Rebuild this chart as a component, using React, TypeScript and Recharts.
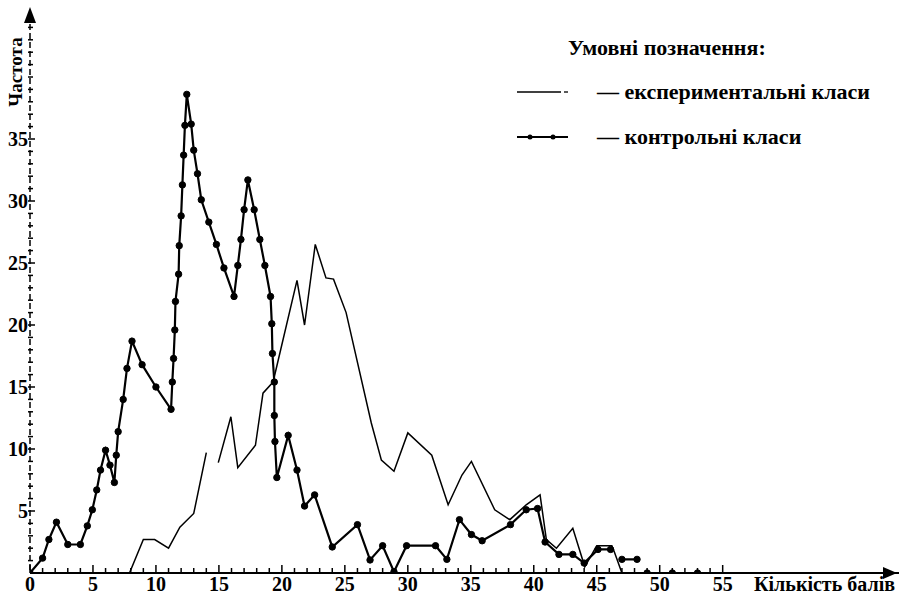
import React from "react";
import { LineChart, Line, XAxis, YAxis, Legend } from "recharts";

const W = 908;
const H = 599;
const LEFT = 30;
const TOP = 15;
const RIGHT = 9;
const XAXIS_H = 26;
const FONT = "'Liberation Serif', 'Times New Roman', serif";

// контрольні класи (points with dots); null = break in the line
const controlScore = [
  0, 1, 1.5, 2.1, 3, 4, 4.55, 4.95, 5.3, 5.6, 6, 6.35, 6.7, 6.85, 7, 7.4, 7.7,
  8.1, 8.9, 10, 11.2, 11.3, 11.4, 11.5, 11.55, 11.8, 11.85, 12, 12.1, 12.2,
  12.3, 12.45, 12.8, 13, 13.3, 13.6, 14.2, 14.8, 15.4, 16.2, 16.5, 16.75, 17,
  17.3, 17.8, 18.25, 18.65, 19.1, 19.2, 19.25, 19.4, 19.4, 19.45, 19.6, 20.5,
  21.2, 21.8, 22.6, 24, 26, 27, 28, 28.9, 29.9, 32.2, 33.1, 34.1, 35.05, 35.9,
  38.15, 39.4, 40.3, 40.9, 42, 43.1, 44, 45.1, 46.1, 46.5, 47, 48.2, 48.6, 49,
  51, 53,
];
const controlFreq = [
  0, 1.2, 2.7, 4.1, 2.3, 2.3, 3.8, 5.1, 6.7, 8.3, 9.9, 8.7, 7.3, 9.5, 11.4, 14,
  16.5, 18.7, 16.8, 15, 13.2, 15.4, 17.3, 19.6, 21.9, 24.1, 26.4, 28.8, 31.3,
  33.7, 36.1, 38.6, 36.2, 34.1, 32.2, 30.1, 28.3, 26.5, 24.6, 22.3, 24.8, 26.9,
  29.3, 31.7, 29.3, 26.9, 24.8, 22.3, 20.1, 17.7, 15.4, 12.7, 10.6, 7.7, 11.1,
  8.3, 5.4, 6.3, 2.1, 3.9, 1.05, 2.2, 0.1, 2.2, 2.2, 1.1, 4.3, 3.1, 2.6, 3.9,
  5.1, 5.2, 2.5, 1.5, 1.5, 0.8, 1.9, 1.9, null, 1.1, 1.1, null, 0, 0, 0,
];

// експериментальні класи (plain line)
const expScore = [
  0, 7.9, 9, 9.9, 11, 11.9, 13, 14, 14.5, 14.95, 15.95, 16.5, 17.9, 18.5, 19.3,
  21.2, 21.8, 22.65, 23.5, 24.1, 25.1, 27.1, 27.9, 28.9, 30, 31.9, 33.2, 34.3,
  35.05, 36.9, 38.1, 39.4, 40.5, 41, 41.8, 43.1, 44.05, 45, 46.2, 46.4, 47,
];
const expFreq = [
  0, 0, 2.7, 2.7, 2, 3.7, 4.8, 9.7, null, 8.9, 12.6, 8.5, 10.3, 14.5, 15.4,
  23.6, 20, 26.5, 23.8, 23.7, 21, 12.1, 9.1, 8.2, 11.3, 9.5, 5.5, 7.9, 9, 5.1,
  4.3, 5.5, 6.3, 2.7, 2, 3.6, 0.5, 2.2, 2.2, 1.7, 0,
];

const xMajor = [0, 5, 10, 15, 20, 25, 30, 35, 40, 45, 50, 55];
const yMajor = [5, 10, 15, 20, 25, 30, 35];
const xTicks = Array.from({ length: 56 }, (_, i) => i);
const yTicks = Array.from({ length: 45 }, (_, i) => i);

const controlData = controlScore.map((score, i) => ({ score, freq: controlFreq[i] }));
const expData = expScore.map((score, i) => ({ score, freq: expFreq[i] }));

function XTick(props: any) {
  const { x, y, payload } = props;
  const v = payload.value;
  const major = xMajor.includes(v);
  return (
    <g>
      <line x1={x} x2={x} y1={y} y2={y - (major ? 8 : 5)} stroke="#000" strokeWidth={1.5} />
      {major && (
        <text x={x} y={y + 18} textAnchor="middle" fontSize={20} fontWeight="bold" fontFamily={FONT} fill="#000">
          {v}
        </text>
      )}
    </g>
  );
}

function YTick(props: any) {
  const { x, y, payload } = props;
  const v = payload.value;
  const major = yMajor.includes(v);
  if (v === 0) return <g />;
  return (
    <g>
      <line x1={x - 2} x2={x + (major ? 5 : 3)} y1={y} y2={y} stroke="#000" strokeWidth={1.5} />
      {major && (
        <text x={x - 2} y={y + 7} textAnchor="end" fontSize={20} fontWeight="bold" fontFamily={FONT} fill="#000">
          {v}
        </text>
      )}
    </g>
  );
}

function LegendBox() {
  const row = { display: "flex", alignItems: "center", height: 45, fontSize: 22 } as const;
  return (
    <div style={{ fontFamily: FONT, fontWeight: "bold", color: "#000", lineHeight: 1 }}>
      <div style={{ marginLeft: 51, fontSize: 22, height: 32 }}>Умовні позначення:</div>
      <div style={row}>
        <svg width={80} height={12}>
          <line x1={0} x2={44} y1={6} y2={6} stroke="#000" strokeWidth={1.3} />
          <line x1={47} x2={51} y1={6} y2={6} stroke="#000" strokeWidth={1.3} />
        </svg>
        <span>— експериментальні класи</span>
      </div>
      <div style={row}>
        <svg width={80} height={12}>
          <line x1={0} x2={51} y1={6} y2={6} stroke="#000" strokeWidth={1.8} />
          <circle cx={13} cy={6} r={2.5} fill="#000" />
          <circle cx={36} cy={6} r={2.5} fill="#000" />
        </svg>
        <span>— контрольні класи</span>
      </div>
    </div>
  );
}

export default function App() {
  const axisY = H - XAXIS_H;
  const plotRight = W - RIGHT;
  return (
    <div style={{ position: "absolute", left: 0, top: 0, width: W, height: H, background: "#fff" }}>
      <LineChart width={W} height={H} margin={{ top: TOP, right: RIGHT, bottom: 0, left: 0 }}>
        <XAxis
          type="number"
          dataKey="score"
          domain={[0, 69]}
          ticks={xTicks}
          interval={0}
          height={XAXIS_H}
          tickSize={0}
          tickMargin={0}
          tickLine={false}
          tick={<XTick />}
          axisLine={{ stroke: "#000", strokeWidth: 1.8 }}
          allowDataOverflow
        />
        <YAxis
          type="number"
          domain={[0, 45]}
          ticks={yTicks}
          interval={0}
          width={LEFT}
          tickSize={0}
          tickMargin={0}
          tickLine={false}
          tick={<YTick />}
          axisLine={{ stroke: "#000", strokeWidth: 1.5, strokeDasharray: "6 3" }}
          allowDataOverflow
        />
        <Legend
          layout="horizontal"
          verticalAlign="middle"
          align="center"
          wrapperStyle={{ left: 517, top: 37, width: 390, height: 140 }}
          content={() => <LegendBox />}
        />
        <Line
          data={expData}
          dataKey="freq"
          name="експериментальні класи"
          type="linear"
          stroke="#000"
          strokeWidth={1.5}
          dot={false}
          isAnimationActive={false}
        />
        <Line
          data={controlData}
          dataKey="freq"
          name="контрольні класи"
          type="linear"
          stroke="#000"
          strokeWidth={2.2}
          dot={{ r: 3.2, fill: "#000", stroke: "#000", strokeWidth: 1 }}
          isAnimationActive={false}
        />
      </LineChart>
      <svg
        width={W}
        height={H}
        style={{ position: "absolute", left: 0, top: 0, pointerEvents: "none" }}
      >
        <polygon points={`${LEFT},${TOP - 8} ${LEFT - 6},${TOP + 8} ${LEFT + 6},${TOP + 8}`} fill="#000" />
        <polygon points={`${plotRight - 2},${axisY} ${plotRight - 16},${axisY - 6} ${plotRight - 16},${axisY + 6}`} fill="#000" />
        <text
          transform={`translate(22, 72) rotate(-90)`}
          textAnchor="middle"
          fontSize={19}
          fontWeight="bold"
          fontFamily={FONT}
        >
          Частота
        </text>
        <text x={plotRight - 4} y={axisY + 18} textAnchor="end" fontSize={20} fontWeight="bold" fontFamily={FONT}>
          Кількість балів
        </text>
      </svg>
    </div>
  );
}
